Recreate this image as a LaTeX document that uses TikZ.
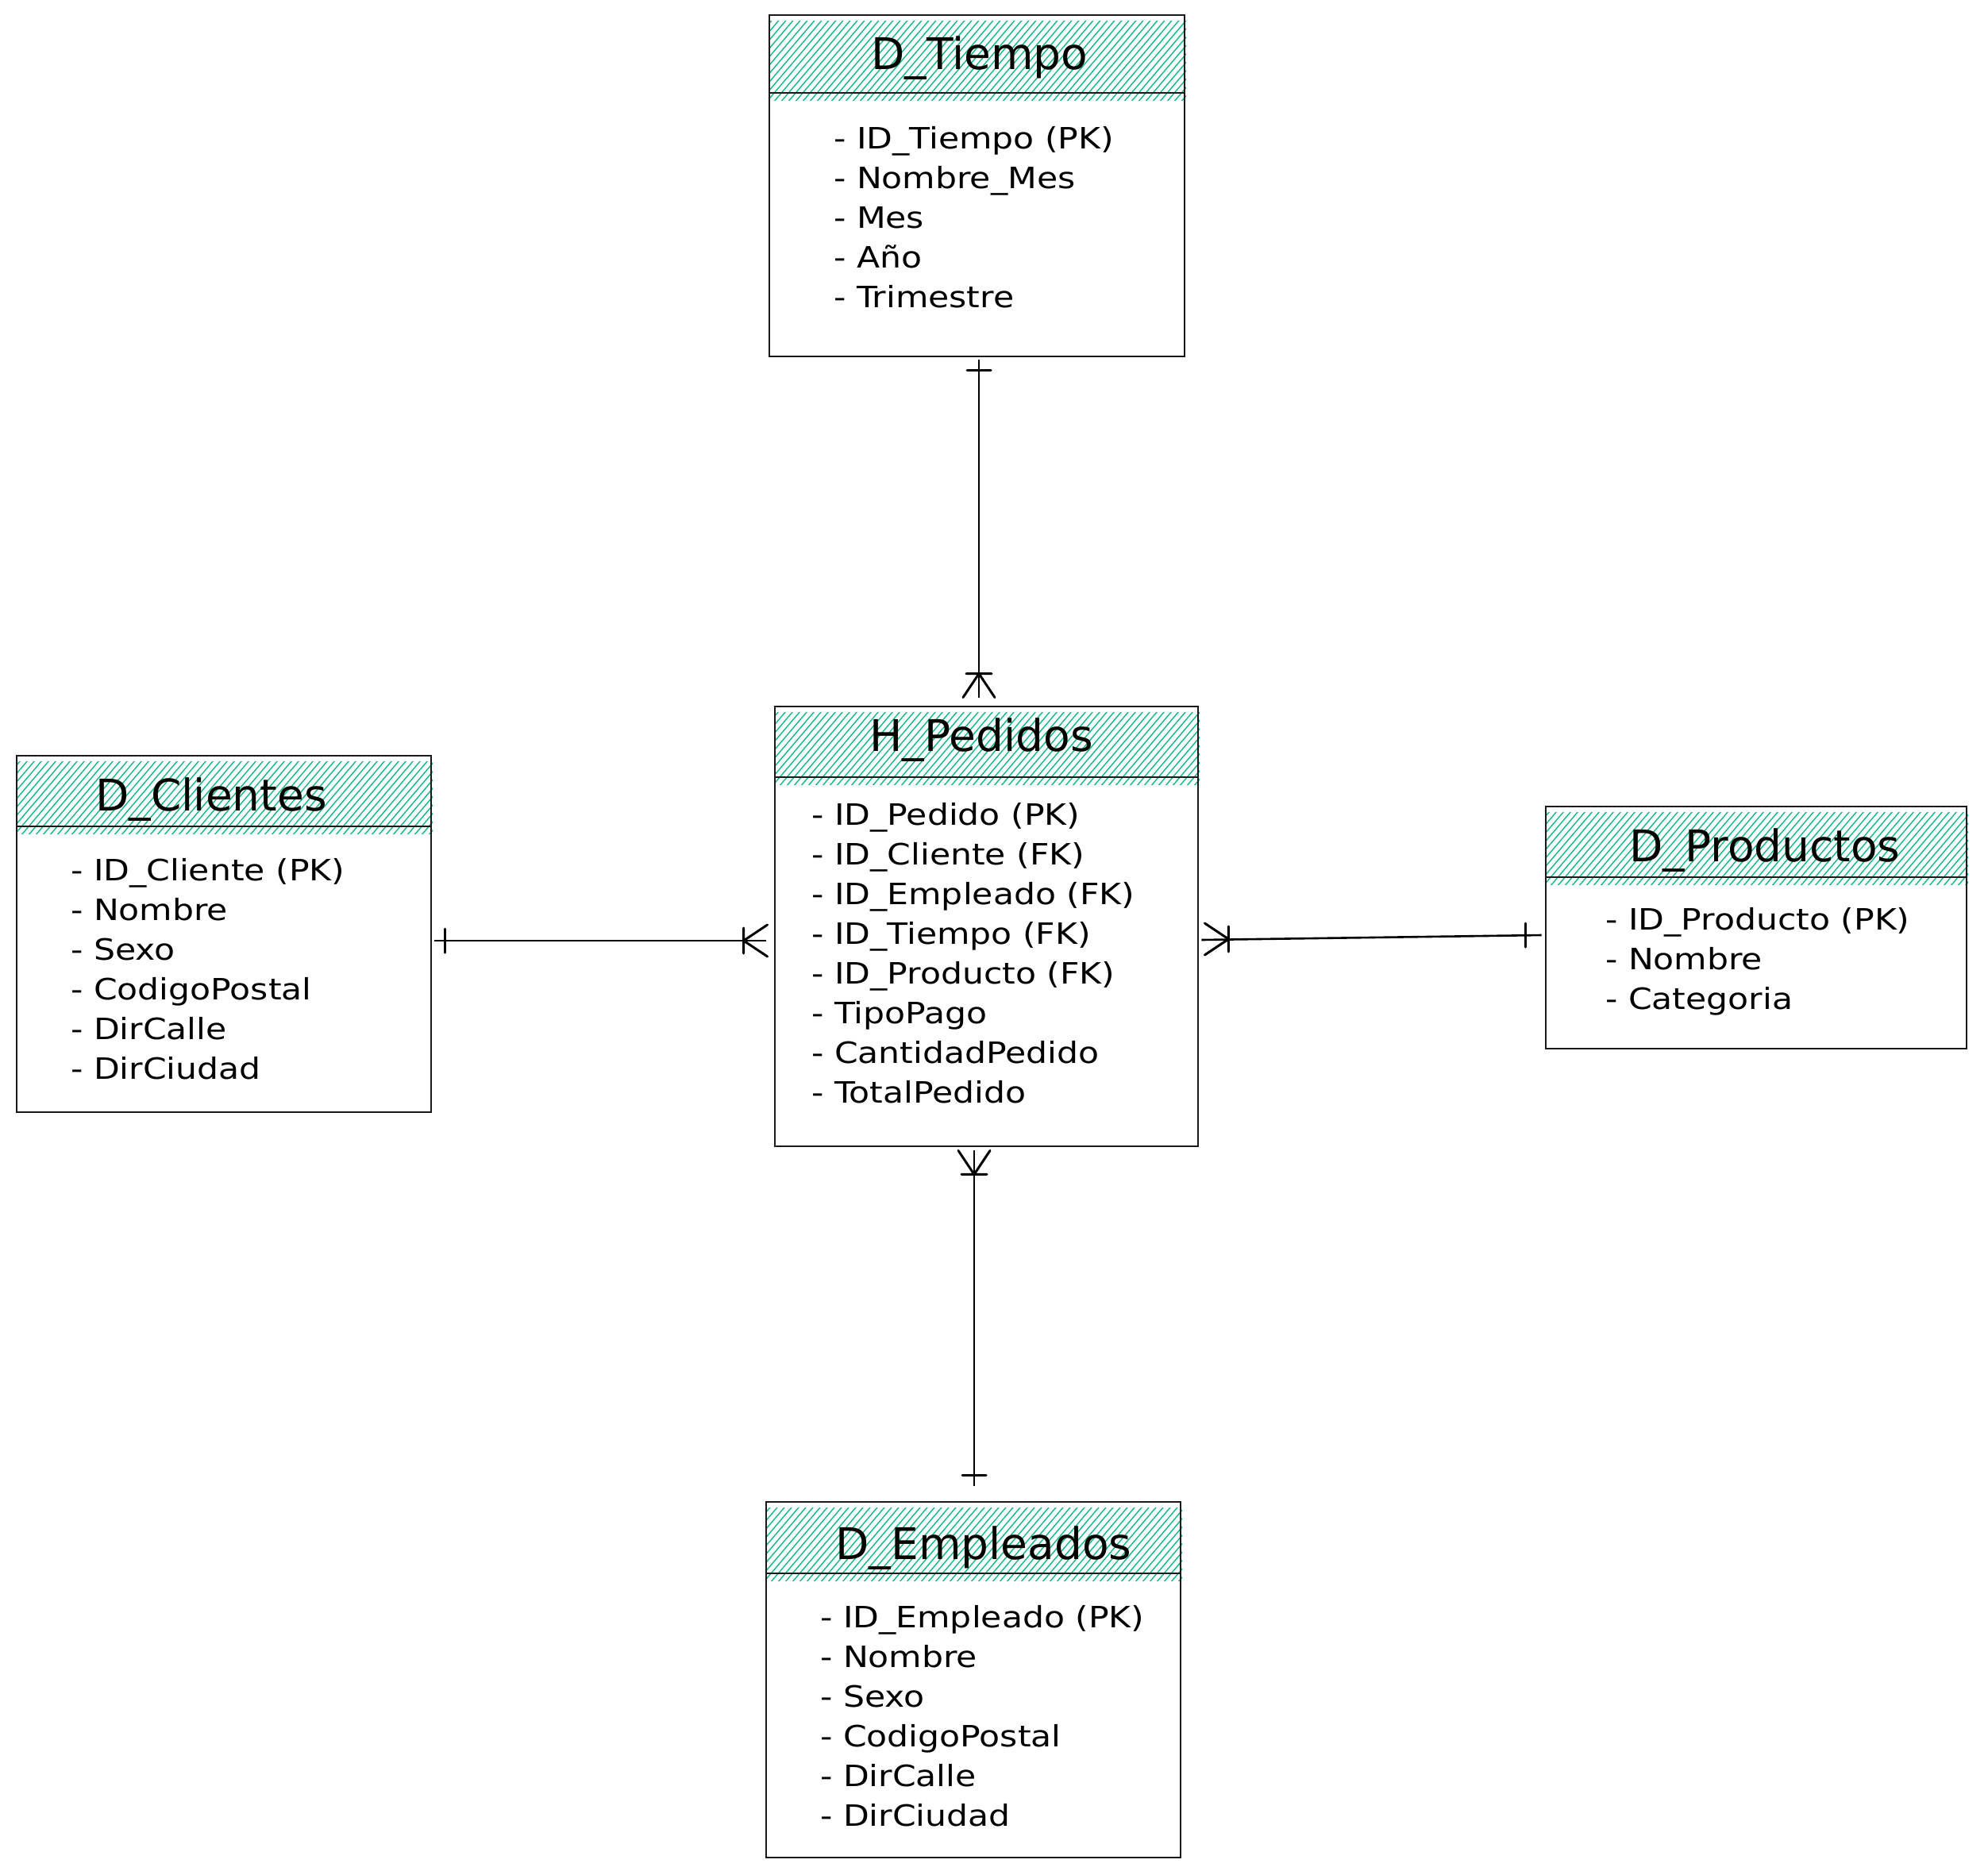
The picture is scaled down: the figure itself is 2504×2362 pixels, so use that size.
\documentclass[tikz,border=0pt]{standalone}
\usepackage{fontspec}
\setmainfont{DejaVu Sans}[FakeStretch=1.15]
\newfontfamily\titlefont{DejaVu Sans}
\usetikzlibrary{calc,fit}
\definecolor{hatchgreen}{HTML}{12B886}
\tikzset{
  boxline/.style={draw=black!90, line width=2.8pt},
  hatchline/.style={draw=hatchgreen, line width=1.4pt},
  conn/.style={draw=black, line width=2.6pt},
  endmark/.style={draw=black, line width=3pt, line cap=round},
  attr/.style={font=\fontsize{37}{44}\selectfont, anchor=base west, inner sep=0pt},
  title/.style={font=\titlefont\fontsize{55}{60}\selectfont, anchor=base, inner sep=0pt},
}
% #1 name, #2 x1, #3 y1, #4 x2, #5 y2, #6 header bottom
\newcommand\erbox[6]{%
  \pgfmathsetmacro\hxa{#2-130}\pgfmathsetmacro\hxb{#2-121}%
  \begin{scope}
    \clip (#2+1,#3+7) rectangle (#4+2,#6+9);
    \foreach \k in {\hxa,\hxb,...,#4} \draw[hatchline] (\k,#6+12) -- ++(115,-135);
  \end{scope}
  \coordinate (#1-nw) at (#2,#3);
  \coordinate (#1-se) at (#4,#5);
  \node[fit=(#1-nw)(#1-se), inner sep=0pt, boxline] (#1) {};
  \draw[boxline] (#2,#6) -- (#4,#6);
}
% crow's foot (one or many); #1 vertex coordinate, #2 angle towards the box
\newcommand\crowfoot[2]{%
  \begin{scope}[shift={(#1)}, rotate=#2]
    \draw[endmark] (0,0) -- (30,20) (0,0) -- (30,-20) (0,-16) -- (0,16);
  \end{scope}}
% single bar; #1 coordinate, #2 angle of the connector
\newcommand\onebar[2]{%
  \begin{scope}[shift={(#1)}, rotate=#2]
    \draw[endmark] (0,-15) -- (0,15);
  \end{scope}}

\begin{document}
\begin{tikzpicture}[x=1pt,y=-1pt]
\useasboundingbox (0,0) rectangle (2504,2362);
\fill[white] (0,0) rectangle (2504,2362);

% boxes
\erbox{tiempo}{969}{19}{1492}{449}{117}
\erbox{pedidos}{976}{890}{1509}{1444}{979}
\erbox{clientes}{21}{952}{543}{1401}{1041}
\erbox{productos}{1947}{1016}{2477}{1321}{1105}
\erbox{empleados}{965}{1892}{1487}{2340}{1982}

% titles
\node[title] (tiempo-title) at (1234,87) {D\_Tiempo};
\node[title] (pedidos-title) at (1236,946) {H\_Pedidos};
\node[title] (clientes-title) at (266,1021) {D\_Clientes};
\node[title] (productos-title) at (2223,1085) {D\_Productos};
\node[title] (empleados-title) at (1239,1964) {D\_Empleados};

% attributes
\foreach \t [count=\i] in {{- ID\_Tiempo (PK)},{- Nombre\_Mes},{- Mes},{- Año},{- Trimestre}}
  \node[attr] (tiempo-a\i) at (1050,{187+50*(\i-1)}) {\t};
\foreach \t [count=\i] in {{- ID\_Pedido (PK)},{- ID\_Cliente (FK)},{- ID\_Empleado (FK)},{- ID\_Tiempo (FK)},{- ID\_Producto (FK)},{- TipoPago},{- CantidadPedido},{- TotalPedido}}
  \node[attr] (pedidos-a\i) at (1022,{1039+50*(\i-1)}) {\t};
\foreach \t [count=\i] in {{- ID\_Cliente (PK)},{- Nombre},{- Sexo},{- CodigoPostal},{- DirCalle},{- DirCiudad}}
  \node[attr] (clientes-a\i) at (89,{1109+50*(\i-1)}) {\t};
\foreach \t [count=\i] in {{- ID\_Producto (PK)},{- Nombre},{- Categoria}}
  \node[attr] (productos-a\i) at (2022,{1171+50*(\i-1)}) {\t};
\foreach \t [count=\i] in {{- ID\_Empleado (PK)},{- Nombre},{- Sexo},{- CodigoPostal},{- DirCalle},{- DirCiudad}}
  \node[attr] (empleados-a\i) at (1033,{2050+50*(\i-1)}) {\t};

% connectors
% Tiempo -- Pedidos
\draw[conn] ($(tiempo.south)+(2.5,3)$) -- ($(pedidos.north)+(-9.5,-10)$);
\onebar{$(tiempo.south)+(2.5,16)$}{90}
\crowfoot{$(pedidos.north)+(-9.5,-40)$}{-90}
% Clientes -- Pedidos
\draw[conn] ($(clientes.east)+(3,8.5)$) -- ($(pedidos.west)+(-10,18)$);
\onebar{$(clientes.east)+(16,8.5)$}{0}
\crowfoot{$(pedidos.west)+(-38,18)$}{0}
% Pedidos -- Productos
\draw[conn] ($(pedidos.east)+(3,17)$) -- ($(productos.west)+(-4,9.5)$);
\crowfoot{$(pedidos.east)+(37,16)$}{180}
\onebar{$(productos.west)+(-24,9.5)$}{0}
% Pedidos -- Empleados
\draw[conn] ($(pedidos.south)+(-15.5,4)$) -- ($(empleados.north)+(1,-19)$);
\crowfoot{$(pedidos.south)+(-15.5,34)$}{90}
\onebar{$(empleados.north)+(1,-32)$}{90}
\end{tikzpicture}
\end{document}
